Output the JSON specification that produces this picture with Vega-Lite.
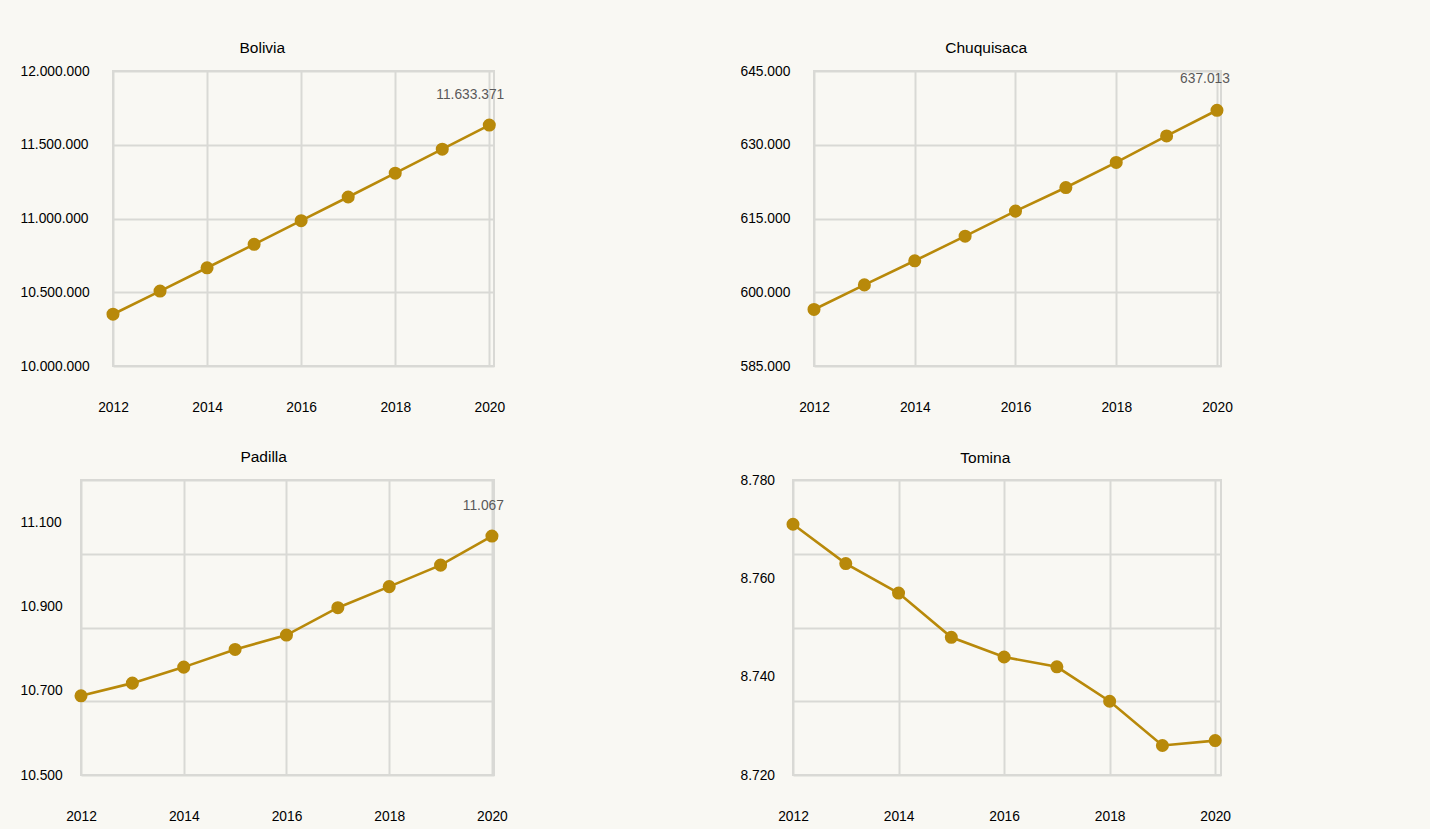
{
  "$schema": "https://vega.github.io/schema/vega-lite/v6.json",
  "background": "#f9f8f3",
  "padding": {"left": 18, "top": 39, "right": 200, "bottom": 5},
  "config": {
    "locale": {"number": {"decimal": ",", "thousands": ".", "grouping": [3], "currency": ["", ""]}},
    "font": "Liberation Sans",
    "view": {"stroke": "#d9d9d5", "strokeWidth": 2},
    "axis": {"grid": true, "gridColor": "#d9d9d5", "gridWidth": 2, "domain": false, "ticks": false, "labelFont": "Liberation Sans", "labelFontSize": 13.8, "labelColor": "#000000", "title": null},
    "axisX": {"labelPadding": 41, "labelBaseline": "middle", "labelFlush": false, "format": "d"},
    "axisY": {"labelAlign": "left", "labelBaseline": "middle", "format": ",.0f"},
    "title": {"anchor": "middle", "frame": "bounds", "fontSize": 15.5, "fontWeight": "normal", "color": "#000000", "font": "Liberation Sans", "offset": 8}
  },
  "datasets": {
    "bolivia": [
      {"year": 2012, "value": 10351118}, {"year": 2013, "value": 10507789}, {"year": 2014, "value": 10665841},
      {"year": 2015, "value": 10825013}, {"year": 2016, "value": 10985059}, {"year": 2017, "value": 11145770},
      {"year": 2018, "value": 11307314}, {"year": 2019, "value": 11469896}, {"year": 2020, "value": 11633371}
    ],
    "chuquisaca": [
      {"year": 2012, "value": 596500}, {"year": 2013, "value": 601500}, {"year": 2014, "value": 606400},
      {"year": 2015, "value": 611400}, {"year": 2016, "value": 616500}, {"year": 2017, "value": 621300},
      {"year": 2018, "value": 626400}, {"year": 2019, "value": 631800}, {"year": 2020, "value": 637013}
    ],
    "padilla": [
      {"year": 2012, "value": 10688}, {"year": 2013, "value": 10718}, {"year": 2014, "value": 10756},
      {"year": 2015, "value": 10798}, {"year": 2016, "value": 10832}, {"year": 2017, "value": 10897},
      {"year": 2018, "value": 10947}, {"year": 2019, "value": 10998}, {"year": 2020, "value": 11067}
    ],
    "tomina": [
      {"year": 2012, "value": 8771}, {"year": 2013, "value": 8763}, {"year": 2014, "value": 8757},
      {"year": 2015, "value": 8748}, {"year": 2016, "value": 8744}, {"year": 2017, "value": 8742},
      {"year": 2018, "value": 8735}, {"year": 2019, "value": 8726}, {"year": 2020, "value": 8727}
    ],
    "empty": []
  },
  "spacing": 33,
  "vconcat": [
    {
      "spacing": 0,
      "hconcat": [
        {"width": 1, "height": 1, "data": {"name": "empty"}, "mark": {"type": "point", "opacity": 0}, "view": {"stroke": null, "fill": "#f9f8f3"}},
        {
          "title": "Bolivia",
          "width": 381, "height": 295,
          "data": {"name": "bolivia"},
          "encoding": {
            "x": {"field": "year", "type": "quantitative", "scale": {"domain": [2012, 2020.1], "nice": false, "zero": false},
                  "axis": {"values": [2012, 2014, 2016, 2018, 2020]}},
            "y": {"field": "value", "type": "quantitative", "scale": {"domain": [10000000, 12000000], "nice": false, "zero": false},
                  "axis": {"values": [10000000, 10500000, 11000000, 11500000, 12000000], "labelPadding": 93}}
          },
          "layer": [
            {"mark": {"type": "line", "color": "#b8890a", "strokeWidth": 2.6}},
            {"mark": {"type": "point", "filled": true, "color": "#b8890a", "size": 170, "opacity": 1}},
            {"transform": [{"filter": "datum.year == 2020"}],
             "mark": {"type": "text", "align": "right", "baseline": "middle", "dx": 15, "dy": -30, "color": "#595959", "fontSize": 13.8},
             "encoding": {"text": {"field": "value", "type": "quantitative", "format": ",.0f"}}}
          ]
        },
        {"width": 233, "height": 1, "data": {"name": "empty"}, "mark": {"type": "point", "opacity": 0}, "view": {"stroke": null, "fill": "#f9f8f3"}},
        {
          "title": "Chuquisaca",
          "width": 407, "height": 295,
          "data": {"name": "chuquisaca"},
          "encoding": {
            "x": {"field": "year", "type": "quantitative", "scale": {"domain": [2012, 2020.08], "nice": false, "zero": false},
                  "axis": {"values": [2012, 2014, 2016, 2018, 2020]}},
            "y": {"field": "value", "type": "quantitative", "scale": {"domain": [585000, 645000], "nice": false, "zero": false},
                  "axis": {"values": [585000, 600000, 615000, 630000, 645000], "labelPadding": 74}}
          },
          "layer": [
            {"mark": {"type": "line", "color": "#b8890a", "strokeWidth": 2.6}},
            {"mark": {"type": "point", "filled": true, "color": "#b8890a", "size": 170, "opacity": 1}},
            {"transform": [{"filter": "datum.year == 2020"}],
             "mark": {"type": "text", "align": "right", "baseline": "middle", "dx": 13, "dy": -31, "color": "#595959", "fontSize": 13.8},
             "encoding": {"text": {"field": "value", "type": "quantitative", "format": ",.0f"}}}
          ]
        }
      ]
    },
    {
      "spacing": 0,
      "hconcat": [
        {"width": 1, "height": 1, "data": {"name": "empty"}, "mark": {"type": "point", "opacity": 0}, "view": {"stroke": null, "fill": "#f9f8f3"}},
        {
          "title": {"text": "Padilla", "offset": 15},
          "width": 413, "height": 295,
          "data": {"name": "padilla"},
          "encoding": {
            "x": {"field": "year", "type": "quantitative", "scale": {"domain": [2012, 2020.04], "nice": false, "zero": false},
                  "axis": {"values": [2012, 2014, 2016, 2018, 2020]}}
          },
          "layer": [
            {"mark": {"type": "line", "color": "#b8890a", "strokeWidth": 2.6},
             "encoding": {"y": {"field": "value", "type": "quantitative", "scale": {"domain": [10500, 11200], "nice": false, "zero": false},
                                "axis": {"values": [10500, 10700, 10900, 11100], "grid": false, "labelPadding": 61, "orient": "left"}}}},
            {"mark": {"type": "point", "filled": true, "color": "#b8890a", "size": 170, "opacity": 1},
             "encoding": {"y": {"field": "value", "type": "quantitative", "scale": {"domain": [10500, 11200], "nice": false, "zero": false},
                                "axis": {"values": [10500, 10675, 10850, 11025, 11200], "grid": true, "labels": false, "orient": "left"}}}},
            {"transform": [{"filter": "datum.year == 2020"}],
             "mark": {"type": "text", "align": "right", "baseline": "middle", "dx": 12, "dy": -30, "color": "#595959", "fontSize": 13.8},
             "encoding": {"y": {"field": "value", "type": "quantitative", "scale": {"domain": [10500, 11200], "nice": false, "zero": false}, "axis": null},
                          "text": {"field": "value", "type": "quantitative", "format": ",.0f"}}}
          ],
          "resolve": {"axis": {"y": "independent"}}
        },
        {"width": 230, "height": 1, "data": {"name": "empty"}, "mark": {"type": "point", "opacity": 0}, "view": {"stroke": null, "fill": "#f9f8f3"}},
        {
          "title": {"text": "Tomina", "offset": 7},
          "width": 428, "height": 295,
          "data": {"name": "tomina"},
          "encoding": {
            "x": {"field": "year", "type": "quantitative", "scale": {"domain": [2012, 2020.11], "nice": false, "zero": false},
                  "axis": {"values": [2012, 2014, 2016, 2018, 2020]}}
          },
          "layer": [
            {"mark": {"type": "line", "color": "#b8890a", "strokeWidth": 2.6},
             "encoding": {"y": {"field": "value", "type": "quantitative", "scale": {"domain": [8720, 8780], "nice": false, "zero": false},
                                "axis": {"values": [8720, 8740, 8760, 8780], "grid": false, "labelPadding": 53, "orient": "left"}}}},
            {"mark": {"type": "point", "filled": true, "color": "#b8890a", "size": 170, "opacity": 1},
             "encoding": {"y": {"field": "value", "type": "quantitative", "scale": {"domain": [8720, 8780], "nice": false, "zero": false},
                                "axis": {"values": [8720, 8735, 8750, 8765, 8780], "grid": true, "labels": false, "orient": "left"}}}}
          ],
          "resolve": {"axis": {"y": "independent"}}
        }
      ]
    }
  ]
}
